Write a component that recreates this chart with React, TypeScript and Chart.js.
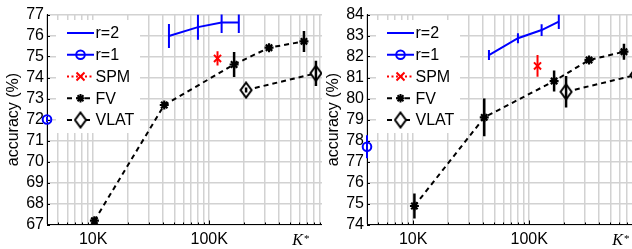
import React, { useEffect, useRef } from "react";
import { Chart, registerables } from "chart.js";
Chart.register(...registerables);

// ---------- shared axis data ----------
const X_MIN = 4000;
const X_MAX = 1000000;
const xTickValues = [
  4000, 5000, 6000, 7000, 8000, 9000,
  10000, 20000, 30000, 40000, 50000, 60000, 70000, 80000, 90000,
  100000, 200000, 300000, 400000, 500000, 600000, 700000, 800000, 900000,
  1000000,
];
const xMajorLabels: Record<string, string> = { "10000": "10K", "100000": "100K" };
const K_STAR_X = 520000;
const legendLabels = ["r=2", "r=1", "SPM", "FV", "VLAT"];

// ---------- x positions (K*) ----------
const r2X = [45000, 80000, 128000, 180000];
const r1X = [4000];
const spmX = [118000];
const fvX = [10250, 41000, 164000, 328000, 656000];
const vlatX = [208000, 832000];

// ---------- left panel ----------
const leftYTicks = [67, 68, 69, 70, 71, 72, 73, 74, 75, 76, 77];
const r2Left = [75.98, 76.4, 76.62, 76.62];
const r2ErrLeft = [0.57, 0.6, 0.5, 0.5];
const r1Left = [72.0];
const r1ErrLeft = [0.12];
const spmLeft = [74.91];
const spmErrLeft = [0.34];
const fvLeft = [67.18, 72.69, 74.62, 75.42, 75.72];
const fvErrLeft = [0.15, 0.1, 0.6, 0.12, 0.5];
const vlatLeft = [73.4, 74.2];
const vlatErrLeft = [0.12, 0.6];

// ---------- right panel ----------
const rightYTicks = [74, 75, 76, 77, 78, 79, 80, 81, 82, 83, 84];
const r2Right = [82.07, 82.87, 83.26, 83.66];
const r2ErrRight = [0.24, 0.24, 0.28, 0.35];
const r1Right = [77.7];
const r1ErrRight = [0.55];
const spmRight = [81.55];
const spmErrRight = [0.52];
const fvRight = [74.88, 79.1, 80.83, 81.83, 82.23];
const fvErrRight = [0.6, 0.9, 0.5, 0.1, 0.38];
const vlatRight = [80.32, 81.12];
const vlatErrRight = [0.75, 0.5];

// ---------- styles ----------
const BLUE = "#0000ff";
const RED = "#ff0000";
const BLACK = "#000000";
const GRID = "#d2d2d2";
const FONT = '"Liberation Sans", Arial, Helvetica, sans-serif';
const CANVAS_W = 340;
const CANVAS_H = 249;
const Y_AXIS_W = 47;
const X_AXIS_H = 24.5;
const TOP_PAD = 14.5;
const RIGHT_PAD = 14.8;

type PanelData = {
  yTicks: number[];
  r2: number[]; r2Err: number[];
  r1: number[]; r1Err: number[];
  spm: number[]; spmErr: number[];
  fv: number[]; fvErr: number[];
  vlat: number[]; vlatErr: number[];
};

const leftPanel: PanelData = {
  yTicks: leftYTicks, r2: r2Left, r2Err: r2ErrLeft, r1: r1Left, r1Err: r1ErrLeft,
  spm: spmLeft, spmErr: spmErrLeft, fv: fvLeft, fvErr: fvErrLeft, vlat: vlatLeft, vlatErr: vlatErrLeft,
};
const rightPanel: PanelData = {
  yTicks: rightYTicks, r2: r2Right, r2Err: r2ErrRight, r1: r1Right, r1Err: r1ErrRight,
  spm: spmRight, spmErr: spmErrRight, fv: fvRight, fvErr: fvErrRight, vlat: vlatRight, vlatErr: vlatErrRight,
};

function makeDiamond(): HTMLCanvasElement {
  const c = document.createElement("canvas");
  c.width = 14;
  c.height = 18;
  const g = c.getContext("2d")!;
  g.beginPath();
  g.moveTo(7, 1.5);
  g.lineTo(12.5, 9);
  g.lineTo(7, 16.5);
  g.lineTo(1.5, 9);
  g.closePath();
  g.fillStyle = "#ffffff";
  g.fill();
  g.lineWidth = 2;
  g.strokeStyle = BLACK;
  g.stroke();
  return c;
}

function drawMarker(ctx: CanvasRenderingContext2D, kind: string, x: number, y: number, diamond: HTMLCanvasElement) {
  ctx.save();
  ctx.setLineDash([]);
  ctx.lineWidth = 2;
  if (kind === "circle") {
    ctx.strokeStyle = BLUE;
    ctx.beginPath();
    ctx.arc(x, y, 4.3, 0, Math.PI * 2);
    ctx.stroke();
  } else if (kind === "x") {
    ctx.strokeStyle = RED;
    const r = 4;
    ctx.beginPath();
    ctx.moveTo(x - r, y - r); ctx.lineTo(x + r, y + r);
    ctx.moveTo(x - r, y + r); ctx.lineTo(x + r, y - r);
    ctx.stroke();
  } else if (kind === "star") {
    ctx.strokeStyle = BLACK;
    const r = 4.2;
    const d = r * Math.SQRT1_2;
    ctx.beginPath();
    ctx.moveTo(x - r, y); ctx.lineTo(x + r, y);
    ctx.moveTo(x, y - r); ctx.lineTo(x, y + r);
    ctx.moveTo(x - d, y - d); ctx.lineTo(x + d, y + d);
    ctx.moveTo(x - d, y + d); ctx.lineTo(x + d, y - d);
    ctx.stroke();
  } else if (kind === "diamond") {
    ctx.drawImage(diamond, x - diamond.width / 2, y - diamond.height / 2);
  }
  ctx.restore();
}

function buildConfig(p: PanelData, diamond: HTMLCanvasElement): any {
  const pts = (xs: number[], ys: number[]) => xs.map((x, i) => ({ x, y: ys[i] }));
  const errSets = [
    { xs: r2X, ys: p.r2, errs: p.r2Err, color: BLUE, width: 2 },
    { xs: r1X, ys: p.r1, errs: p.r1Err, color: BLUE, width: 2 },
    { xs: spmX, ys: p.spm, errs: p.spmErr, color: RED, width: 2 },
    { xs: fvX, ys: p.fv, errs: p.fvErr, color: BLACK, width: 2.5 },
    { xs: vlatX, ys: p.vlat, errs: p.vlatErr, color: BLACK, width: 2.5 },
  ];
  const legendEntries = [
    { label: legendLabels[0], color: BLUE, dash: [] as number[], marker: "" },
    { label: legendLabels[1], color: BLUE, dash: [] as number[], marker: "circle" },
    { label: legendLabels[2], color: RED, dash: [2, 2.5], marker: "x" },
    { label: legendLabels[3], color: BLACK, dash: [5, 4], marker: "star" },
    { label: legendLabels[4], color: BLACK, dash: [5, 4], marker: "diamond" },
  ];

  const decor = {
    id: "decor",
    beforeDatasetsDraw(chart: any) {
      const { ctx, chartArea: ca, scales } = chart;
      ctx.save();
      ctx.strokeStyle = BLACK;
      ctx.lineWidth = 1;
      ctx.beginPath();
      p.yTicks.forEach((v) => {
        const y = Math.round(scales.y.getPixelForValue(v)) + 0.5;
        ctx.moveTo(ca.left, y);
        ctx.lineTo(ca.left + 3, y);
      });
      xTickValues.forEach((v) => {
        const x = Math.round(scales.x.getPixelForValue(v)) + 0.5;
        const len = xMajorLabels[String(v)] ? 4 : 2;
        ctx.moveTo(x, ca.bottom);
        ctx.lineTo(x, ca.bottom - len);
      });
      ctx.stroke();
      ctx.restore();
    },
    afterDatasetsDraw(chart: any) {
      const { ctx, chartArea: ca, scales } = chart;
      // error bars
      ctx.save();
      ctx.beginPath();
      ctx.rect(ca.left - 8, ca.top, ca.right - ca.left + 16, ca.bottom - ca.top);
      ctx.clip();
      errSets.forEach((s) => {
        ctx.strokeStyle = s.color;
        ctx.lineWidth = s.width;
        ctx.setLineDash([]);
        ctx.beginPath();
        s.xs.forEach((xv, i) => {
          const x = scales.x.getPixelForValue(xv);
          ctx.moveTo(x, scales.y.getPixelForValue(s.ys[i] + s.errs[i]));
          ctx.lineTo(x, scales.y.getPixelForValue(s.ys[i] - s.errs[i]));
        });
        ctx.stroke();
      });
      ctx.restore();

      // legend
      ctx.save();
      const lx = ca.left + 9;
      const ly = ca.top + 5.5;
      ctx.fillStyle = "#ffffff";
      ctx.fillRect(lx, ly, 84, 113);
      ctx.font = `16px ${FONT}`;
      ctx.textBaseline = "middle";
      ctx.textAlign = "left";
      legendEntries.forEach((e, i) => {
        const cy = ca.top + 18.5 + i * 21.75;
        const x0 = ca.left + 20;
        const x1 = ca.left + 47;
        ctx.strokeStyle = e.color;
        ctx.lineWidth = 2;
        ctx.setLineDash(e.dash);
        ctx.beginPath();
        ctx.moveTo(x0, cy);
        ctx.lineTo(x1, cy);
        ctx.stroke();
        ctx.setLineDash([]);
        if (e.marker) drawMarker(ctx, e.marker, (x0 + x1) / 2, cy, diamond);
        ctx.fillStyle = BLACK;
        ctx.fillText(e.label, ca.left + 48.5, cy + 1);
      });
      ctx.restore();

      // K* axis label
      ctx.save();
      const kx = scales.x.getPixelForValue(K_STAR_X);
      ctx.fillStyle = BLACK;
      ctx.textBaseline = "alphabetic";
      ctx.textAlign = "left";
      ctx.font = `italic 16px "Liberation Serif", "Times New Roman", serif`;
      ctx.fillText("K", kx, ca.bottom + 20.5);
      const kw = ctx.measureText("K").width;
      ctx.font = `11px "Liberation Serif", "Times New Roman", serif`;
      ctx.fillText("*", kx + kw + 1, ca.bottom + 17.5);
      ctx.restore();
    },
  };

  return {
    type: "scatter",
    data: {
      datasets: [
        {
          label: legendLabels[0], data: pts(r2X, p.r2), showLine: true,
          borderColor: BLUE, borderWidth: 2, pointRadius: 0, pointHoverRadius: 0,
        },
        {
          label: legendLabels[1], data: pts(r1X, p.r1), showLine: false,
          pointStyle: "circle", pointRadius: 4.3, pointBorderWidth: 2,
          borderColor: BLUE, backgroundColor: "rgba(0,0,0,0)", clip: false,
        },
        {
          label: legendLabels[2], data: pts(spmX, p.spm), showLine: false,
          pointStyle: "crossRot", pointRadius: 5, pointBorderWidth: 2,
          borderColor: RED, backgroundColor: RED,
        },
        {
          label: legendLabels[3], data: pts(fvX, p.fv), showLine: true,
          borderColor: BLACK, borderWidth: 2, borderDash: [5, 4],
          pointStyle: "star", pointRadius: 4.5, pointBorderWidth: 2.2, backgroundColor: BLACK,
        },
        {
          label: legendLabels[4], data: pts(vlatX, p.vlat), showLine: true,
          borderColor: BLACK, borderWidth: 2, borderDash: [5, 4],
          pointStyle: diamond, pointRadius: 6, backgroundColor: "#ffffff", clip: false,
        },
      ],
    },
    options: {
      responsive: false,
      animation: false,
      devicePixelRatio: 1,
      layout: { padding: { left: 0, right: RIGHT_PAD, top: TOP_PAD, bottom: 0 } },
      plugins: { legend: { display: false }, tooltip: { enabled: false } },
      scales: {
        x: {
          type: "logarithmic",
          min: X_MIN,
          max: X_MAX,
          afterBuildTicks: (s: any) => {
            s.ticks = xTickValues.map((v) => ({ value: v }));
          },
          afterFit: (s: any) => {
            s.height = X_AXIS_H;
          },
          grid: { color: GRID, lineWidth: 1.5, drawTicks: false },
          border: { display: true, color: BLACK, width: 1 },
          ticks: {
            autoSkip: false, maxRotation: 0, minRotation: 0, padding: 5, color: BLACK,
            font: { family: FONT, size: 16 },
            callback: (v: any) => xMajorLabels[String(v)] ?? "",
          },
        },
        y: {
          type: "linear",
          min: p.yTicks[0],
          max: p.yTicks[p.yTicks.length - 1],
          afterBuildTicks: (s: any) => {
            s.ticks = p.yTicks.map((v) => ({ value: v }));
          },
          afterFit: (s: any) => {
            s.width = Y_AXIS_W;
          },
          grid: { color: GRID, lineWidth: 1.5, drawTicks: false },
          border: { display: true, color: BLACK, width: 1 },
          ticks: { autoSkip: false, padding: 3, color: BLACK, font: { family: FONT, size: 16 } },
          title: {
            display: true, text: "accuracy (%)", color: BLACK,
            font: { family: FONT, size: 16 }, padding: { top: 4, bottom: 0 },
          },
        },
      },
    },
    plugins: [decor],
  };
}

function Panel({ data, left, width }: { data: PanelData; left: number; width: number }) {
  const ref = useRef<HTMLCanvasElement>(null);
  useEffect(() => {
    const canvas = ref.current!;
    const chart = new Chart(canvas, buildConfig(data, makeDiamond()));
    return () => chart.destroy();
  }, [data]);
  return (
    <div style={{ position: "absolute", left, top: 0, width, height: CANVAS_H, overflow: "hidden" }}>
      <canvas
        ref={ref}
        width={CANVAS_W}
        height={CANVAS_H}
        style={{ display: "block", width: CANVAS_W, height: CANVAS_H }}
      />
    </div>
  );
}

export default function App() {
  return (
    <div style={{ position: "fixed", left: 0, top: 0, width: 632, height: 249, background: "#ffffff", overflow: "hidden" }}>
      <Panel data={leftPanel} left={0} width={322} />
      <Panel data={rightPanel} left={320} width={312} />
    </div>
  );
}
